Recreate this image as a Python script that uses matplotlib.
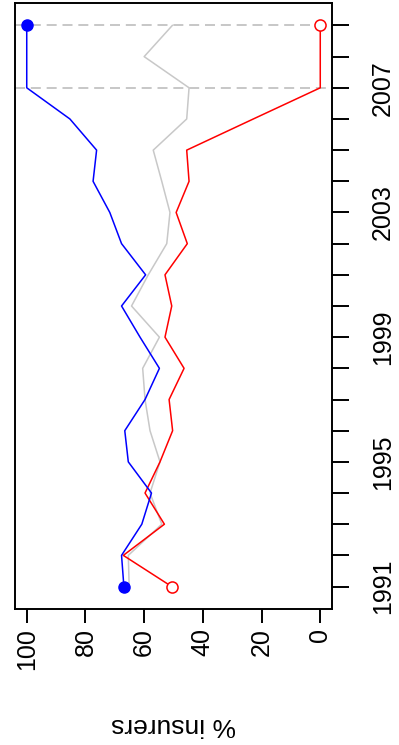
import matplotlib
matplotlib.use('Agg')
import matplotlib.pyplot as plt

plt.rcParams['font.family'] = ['Liberation Sans', 'DejaVu Sans']

years = list(range(1991, 2010))
blue = [66.9, 67.7, 60.8, 57.5, 65.4, 66.6, 59.7, 54.8, 61.4, 67.7,
        59.5, 67.7, 71.7, 77.4, 76.2, 85.3, 100, 100, 100]
red = [50.6, 67.1, 53.1, 59.7, 54.6, 50.3, 51.5, 46.4, 52.9, 50.6,
       52.9, 45.3, 49.1, 44.7, 45.5, 22.8, 0, 0, 0]
gray = [65.1, 65.4, 54.0, 58.0, 54.6, 58.0, 59.7, 60.5, 54.8, 64.3,
        58.6, 52.3, 51.2, 54.0, 56.9, 45.5, 44.7, 60.0, 50.4]
label_years = [1991, 1995, 1999, 2003, 2007]
pct_ticks = [0, 20, 40, 60, 80, 100]
ref_years = [2007, 2009]

fig = plt.figure(figsize=(3.99, 7.45), dpi=100)
ax = fig.add_axes([15/399, (745-609)/745, (332-15)/399, (609-3)/745])

for yr in ref_years:
    ax.axhline(yr, color='#BEBEBE', lw=1.2, linestyle=(0, (6, 3.5)))

ax.plot(gray, years, color='#C8C8C8', lw=1.1)
ax.plot(red, years, color='red', lw=1.1)
ax.plot(blue, years, color='blue', lw=1.1)

# end points
ax.plot([blue[0], blue[-1]], [years[0], years[-1]], 'o', color='blue', ms=8)
ax.plot([red[0], red[-1]], [years[0], years[-1]], 'o', mfc='white', mec='red', mew=1.1, ms=8)

ax.set_xlim(104, -4)
ax.set_ylim(1990.28, 2009.72)

ax.yaxis.tick_right()
ax.set_yticks(years)
ax.set_yticklabels([str(y) if y in label_years else '' for y in years],
                   rotation=90, va='center')
ax.tick_params(axis='y', length=12, width=1.4, pad=16, labelsize=18)

ax.set_xticks(pct_ticks)
ax.set_xticklabels([str(p) for p in pct_ticks], rotation=90)
ax.tick_params(axis='x', length=10, width=1.4, pad=4, labelsize=18)

for s in ax.spines.values():
    s.set_linewidth(1.4)

fig.text(174/399, 1 - 725/745, '% insurers', rotation=180,
         ha='center', va='center', fontsize=19)

fig.savefig('out.png', dpi=100)
plt.close()
